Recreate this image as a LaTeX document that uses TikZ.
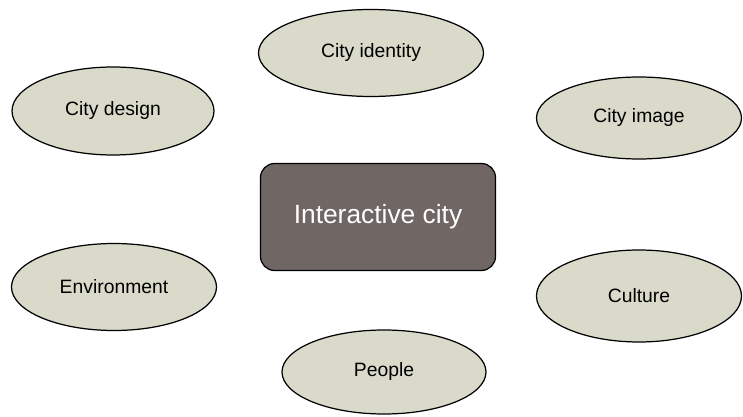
\documentclass[tikz,border=0pt]{standalone}
\usepackage{fontspec}
\setmainfont{Liberation Sans}
\usetikzlibrary{shapes.geometric}

\definecolor{ovalfill}{RGB}{218,218,202}
\definecolor{hubfill}{RGB}{112,102,100}

\tikzset{
  theme/.style={ellipse,draw=black,line width=0.7pt,fill=ovalfill,inner sep=0pt,font=\fontsize{11}{13}\selectfont},
  hubbox/.style={rectangle,rounded corners=8pt,draw=black,line width=0.7pt,fill=hubfill,text=white,inner sep=0pt,font=\fontsize{15}{18}\selectfont}
}

\begin{document}
\begin{tikzpicture}
  \useasboundingbox (0,0) rectangle (14.86,8.34);
  \node[hubbox,minimum width=4.7cm,minimum height=2.14cm] (hub) at (7.56,4.0) {Interactive city};
  \node[theme,minimum width=4.5cm,minimum height=1.74cm] (identity) at (7.42,7.28) {City identity};
  \node[theme,minimum width=4.04cm,minimum height=1.76cm] (design) at (2.26,6.12) {City design};
  \node[theme,minimum width=4.1cm,minimum height=1.64cm] (image) at (12.78,5.98) {City image};
  \node[theme,minimum width=4.1cm,minimum height=1.74cm] (environment) at (2.28,2.6) {Environment};
  \node[theme,minimum width=4.1cm,minimum height=1.84cm] (culture) at (12.78,2.42) {Culture};
  \node[theme,minimum width=4.08cm,minimum height=1.68cm] (people) at (7.68,0.9) {People};
\end{tikzpicture}
\end{document}
